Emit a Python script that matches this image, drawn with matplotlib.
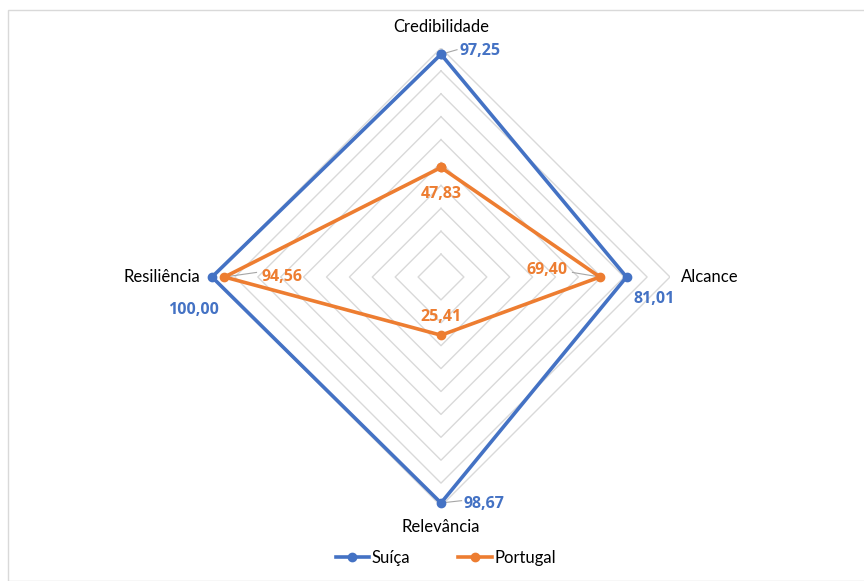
import numpy as np
import matplotlib.pyplot as plt
from matplotlib.patches import Rectangle

plt.rcParams['font.family'] = ['Lato', 'DejaVu Sans']

# radar categories, clockwise from the top
categories = ['Credibilidade', 'Alcance', 'Relevância', 'Resiliência']
suica = [97.25, 81.01, 98.67, 100.00]
portugal = [47.83, 69.40, 25.41, 94.56]
series_names = ['Suíça', 'Portugal']
grid_levels = [10, 20, 30, 40, 50, 60, 70, 80, 90, 100]

blue = '#4472C4'
orange = '#ED7D31'

W, H = 864, 581
cx, cy, rad = 441, 277, 229

fig = plt.figure(figsize=(W / 100, H / 100), dpi=100)
ax = fig.add_axes([(cx - rad) / W, (H - cy - rad) / H, 2 * rad / W, 2 * rad / H])
ax.set_xlim(-100, 100)
ax.set_ylim(-100, 100)
ax.axis('off')

angles = np.arange(len(categories)) * 2 * np.pi / len(categories)


def to_xy(vals):
    vals = np.asarray(vals, dtype=float)
    return vals * np.sin(angles), vals * np.cos(angles)


# diamond grid
for lv in grid_levels:
    gx, gy = to_xy([lv] * len(categories))
    ax.plot(np.append(gx, gx[0]), np.append(gy, gy[0]), color='#D9D9D9', lw=1.0, zorder=1)

# series
sx, sy = to_xy(suica)
px, py = to_xy(portugal)
ax.plot(np.append(sx, sx[0]), np.append(sy, sy[0]), color=blue, lw=2.6,
        marker='o', ms=6, zorder=3, clip_on=False, label=series_names[0])
ax.plot(np.append(px, px[0]), np.append(py, py[0]), color=orange, lw=2.6,
        marker='o', ms=6, zorder=4, clip_on=False, label=series_names[1])

# category labels
cat_fs = 12
ax.text(0, 109, categories[0], ha='center', va='center', fontsize=cat_fs)
ax.text(105, 0, categories[1], ha='left', va='center', fontsize=cat_fs)
ax.text(0, -109, categories[2], ha='center', va='center', fontsize=cat_fs)
ax.text(-105, 0, categories[3], ha='right', va='center', fontsize=cat_fs)


def fmt(v):
    return f'{v:.2f}'.replace('.', ',')


# data labels: (offset of text in data units, alignment, leader end)
s_pos = [((8, 1.5), 'left', (7, 2)), ((3, -9.5), 'left', None),
         ((10, -0.5), 'left', (9, 1)), ((-8, -14.5), 'center', (-7, -8))]
p_pos = [((0, -11.5), 'center', None), ((-14, 3), 'right', (-12, 2)),
         ((0, 8), 'center', None), ((16, 0), 'left', (14, 2))]

for vals, pos, col in [(suica, s_pos, blue), (portugal, p_pos, orange)]:
    xs, ys = to_xy(vals)
    for v, x, y, ((dx, dy), ha, lead) in zip(vals, xs, ys, pos):
        ax.text(x + dx, y + dy, fmt(v), ha=ha, va='center', fontsize=11.5,
                family=['Open Sans', 'DejaVu Sans'],
                fontweight='bold', color=col, zorder=5)
        if lead is not None:
            ax.plot([x, x + lead[0]], [y, y + lead[1]], color='#A6A6A6', lw=0.8, zorder=2)

# legend
leg = fig.legend(loc='lower center', bbox_to_anchor=(0.516, 0.0), ncol=2,
                 frameon=False, fontsize=12, handlelength=2.0, columnspacing=2.9,
                 handletextpad=0.15)

# chart border
fig.patches.append(Rectangle((8 / W, 0), 1, (H - 10) / H, transform=fig.transFigure,
                             fill=False, edgecolor='#D9D9D9', lw=1.0))

fig.savefig('out.png', dpi=100)
